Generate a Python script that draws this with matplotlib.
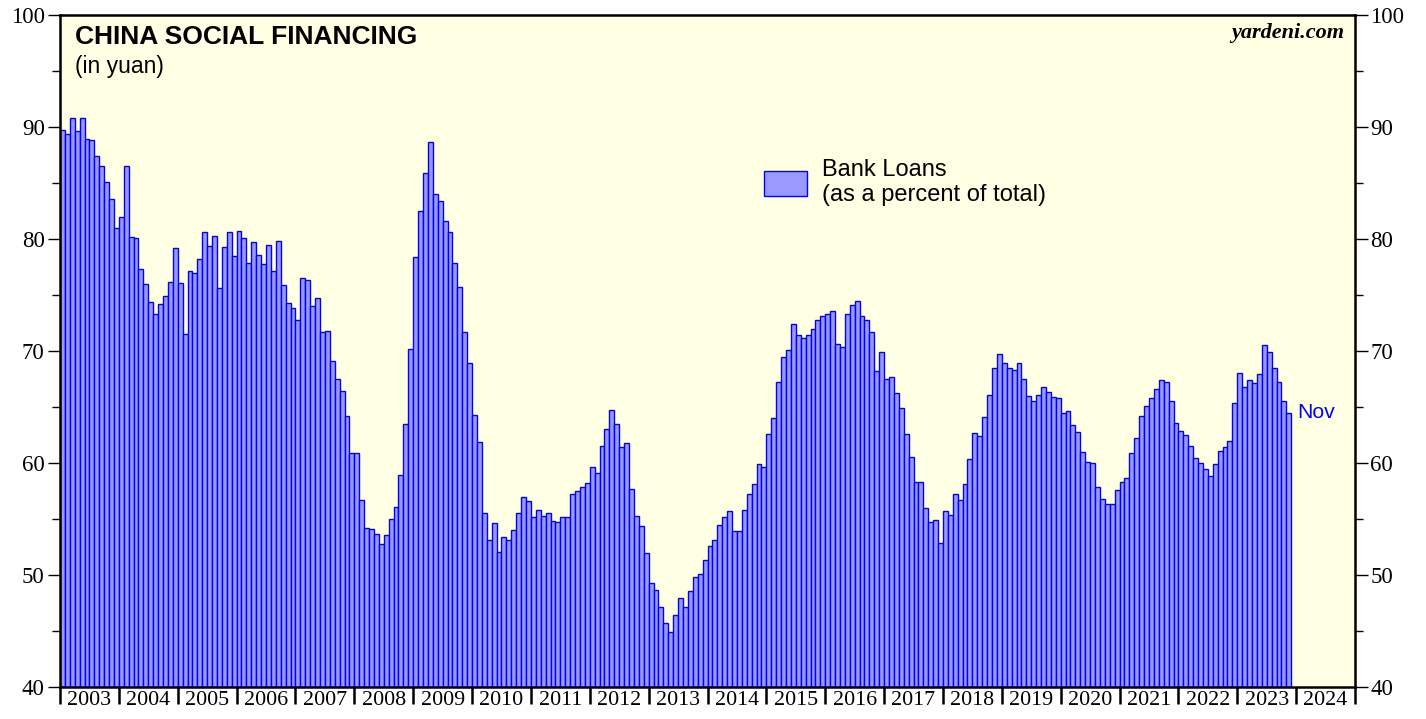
import numpy as np
import matplotlib
matplotlib.use("Agg")
import matplotlib.pyplot as plt
from matplotlib.patches import Patch
from matplotlib.ticker import MultipleLocator, FixedLocator, NullFormatter

# Bank loans as a percent of total social financing, monthly (Jan 2003 - Nov 2023)
y2003 = [89.7, 89.4, 90.8, 89.6, 90.8, 88.9, 88.8, 87.4, 86.5, 85.1, 83.6, 81.0]
y2004 = [82.0, 86.5, 80.2, 80.1, 77.3, 76.0, 74.35, 73.3, 74.2, 74.9, 76.2, 79.2]
y2005 = [76.1, 71.5, 77.1, 77.0, 78.2, 80.6, 79.4, 80.3, 75.65, 79.3, 80.65, 78.45]
y2006 = [80.7, 80.1, 77.9, 79.7, 78.6, 77.8, 79.5, 77.1, 79.8, 75.9, 74.3, 73.8]
y2007 = [72.8, 76.55, 76.3, 74.0, 74.75, 71.7, 71.8, 69.1, 67.5, 66.4, 64.2, 60.9]
y2008 = [60.9, 56.7, 54.2, 54.1, 53.7, 52.8, 53.6, 55.0, 56.1, 58.9, 63.5, 70.2]
y2009 = [78.4, 82.5, 85.9, 88.7, 84.05, 83.4, 81.6, 80.65, 77.9, 75.75, 71.7, 68.95]
y2010 = [64.3, 61.9, 55.5, 53.15, 54.6, 52.05, 53.4, 53.15, 54.05, 55.5, 57.0, 56.6]
y2011 = [55.2, 55.8, 55.3, 55.55, 54.8, 54.75, 55.2, 55.2, 57.2, 57.5, 57.9, 58.2]
y2012 = [59.6, 59.1, 61.55, 63.05, 64.75, 63.5, 61.45, 61.8, 57.7, 55.3, 54.4, 52.0]
y2013 = [49.25, 48.7, 47.1, 45.7, 44.9, 46.45, 47.95, 47.1, 48.6, 49.85, 50.1, 51.35]
y2014 = [52.6, 53.15, 54.5, 55.2, 55.7, 53.95, 53.9, 55.8, 57.2, 58.15, 59.9, 59.6]
y2015 = [62.6, 64.05, 67.2, 69.5, 70.1, 72.4, 71.45, 71.2, 71.4, 72.0, 72.8, 73.15]
y2016 = [73.3, 73.6, 70.65, 70.4, 73.3, 74.1, 74.5, 73.1, 72.8, 71.7, 68.25, 69.9]
y2017 = [67.5, 67.7, 66.25, 64.95, 62.6, 60.5, 58.3, 58.3, 56.0, 54.7, 54.9, 52.9]
y2018 = [55.7, 55.4, 57.2, 56.7, 58.1, 60.35, 62.65, 62.45, 64.1, 66.1, 68.5, 69.7]
y2019 = [68.9, 68.5, 68.3, 68.95, 67.5, 65.95, 65.5, 66.05, 66.8, 66.35, 65.9, 65.8]
y2020 = [64.5, 64.6, 63.35, 62.8, 61.0, 60.1, 60.0, 57.9, 56.75, 56.3, 56.3, 57.55]
y2021 = [58.3, 58.65, 60.9, 62.2, 64.2, 65.05, 65.8, 66.6, 67.4, 67.2, 65.5, 63.6]
y2022 = [62.85, 62.5, 61.5, 60.45, 60.0, 59.5, 58.8, 59.9, 61.05, 61.4, 62.0, 65.35]
y2023 = [68.0, 66.8, 67.45, 67.15, 67.95, 70.5, 69.9, 68.5, 67.2, 65.55, 64.5]

years = list(range(2003, 2025))
loans = np.array(y2003 + y2004 + y2005 + y2006 + y2007 + y2008 + y2009 + y2010 +
                 y2011 + y2012 + y2013 + y2014 + y2015 + y2016 + y2017 + y2018 +
                 y2019 + y2020 + y2021 + y2022 + y2023)
x = 2003 + np.arange(len(loans)) / 12.0

serif = "Liberation Serif"
sans = "Liberation Sans"

fig = plt.figure(figsize=(14.26, 7.19), dpi=100)
ax = fig.add_axes([60 / 1426, 1 - 687 / 719, 1295 / 1426, 672 / 719])
ax.set_facecolor("#FFFFE3")

ax.bar(x, loans - 40, bottom=40, width=1 / 12, align="edge",
       facecolor="#9999FF", edgecolor="#0000FF", linewidth=1.0, zorder=2)

ax.set_xlim(2003, 2025)
ax.set_ylim(40, 100)

for s in ax.spines.values():
    s.set_linewidth(1.8)
    s.set_color("black")
    s.set_zorder(5)

# y axis: both sides
ax.yaxis.set_major_locator(MultipleLocator(10))
ax.yaxis.set_minor_locator(MultipleLocator(5))
ax.tick_params(axis="y", which="major", left=True, right=True, labelleft=True,
               labelright=True, length=9, width=1.0, direction="out",
               labelsize=16.5, pad=2)
ax.tick_params(axis="y", which="minor", left=True, right=True, length=6,
               width=1.0, direction="out")
for lab in ax.get_yticklabels():
    lab.set_fontfamily(serif)

# x axis: year boundaries as ticks, labels in the middle
ax.xaxis.set_major_locator(FixedLocator(years + [2025]))
ax.xaxis.set_major_formatter(NullFormatter())
ax.xaxis.set_minor_locator(FixedLocator([yr + 0.5 for yr in years]))
ax.set_xticklabels([str(yr) for yr in years], minor=True)
ax.tick_params(axis="x", which="major", length=12, width=1.8, direction="out")
ax.tick_params(axis="x", which="minor", length=0, labelsize=15.8, pad=3)
for lab in ax.get_xticklabels(minor=True):
    lab.set_fontfamily(serif)

ax.text(0.0116, 0.985, "CHINA SOCIAL FINANCING", transform=ax.transAxes,
        fontsize=19, fontweight="bold", fontfamily=sans, va="top", ha="left")
ax.text(0.0116, 0.94, "(in yuan)", transform=ax.transAxes,
        fontsize=16.5, fontfamily=sans, va="top", ha="left")
ax.text(0.992, 0.988, "yardeni.com", transform=ax.transAxes, fontsize=16,
        fontweight="bold", fontstyle="italic", fontfamily=serif,
        va="top", ha="right")

handle = Patch(facecolor="#9999FF", edgecolor="#0000FF", linewidth=1.0)
leg = ax.legend([handle], ["Bank Loans\n(as a percent of total)"],
                loc="upper left", bbox_to_anchor=(0.544, 0.786), frameon=False,
                borderpad=0, borderaxespad=0, handlelength=1.8,
                handleheight=1.25, handletextpad=0.62,
                prop={"family": sans, "size": 17})

ax.annotate("Nov", xy=(x[-1] + 1 / 12, loans[-1]), xytext=(4, 0),
            textcoords="offset points", color="#0000FF", fontsize=15.3,
            fontfamily=sans, va="center", ha="left")

fig.savefig("out.png", dpi=100, facecolor="white")
